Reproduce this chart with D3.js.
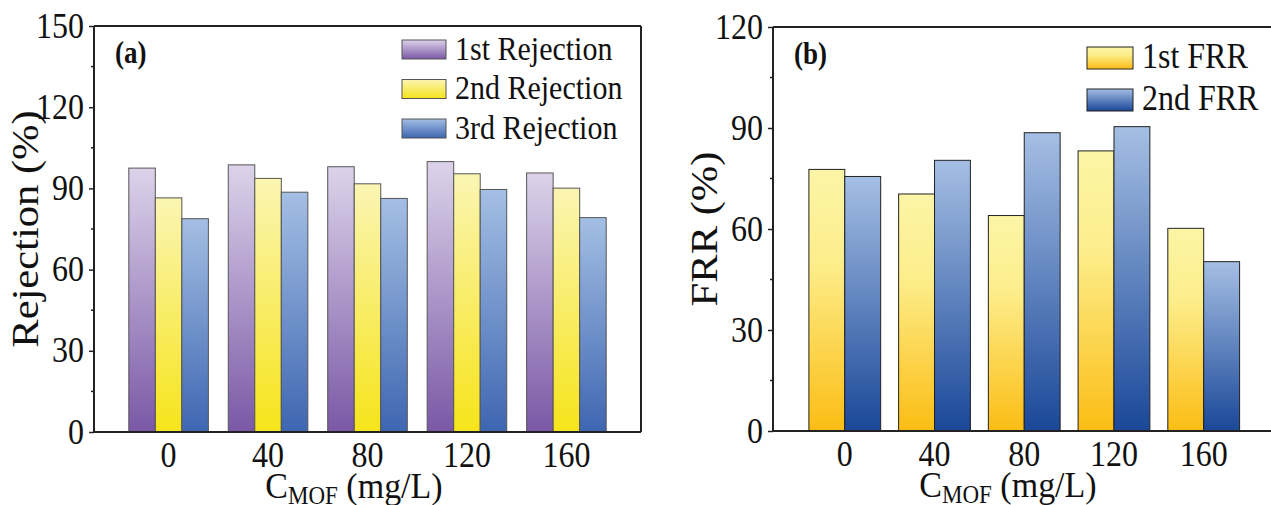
<!DOCTYPE html>
<html>
<head>
<meta charset="utf-8">
<script src="https://cdn.jsdelivr.net/npm/d3@7"></script>
<style>
  body { margin: 0; background: #fff; }
  text { font-family: 'Liberation Serif', 'Times New Roman', serif; fill: #111; }
</style>
</head>
<body>
<div class="canvas"></div>
<script>
// data
const concentrations = [0, 40, 80, 120, 160]
const rejection1 = [97.5, 98.7, 98.0, 99.9, 95.7]
const rejection2 = [86.5, 93.7, 91.7, 95.4, 90.1]
const rejection3 = [78.8, 88.6, 86.3, 89.6, 79.2]
const frr1 = [77.7, 70.4, 64.0, 83.2, 60.2]
const frr2 = [75.6, 80.4, 88.6, 90.4, 50.3]
const rejectionTicks = [0, 30, 60, 90, 120, 150]
const frrTicks = [0, 30, 60, 90, 120]

const dimensions = { width: 1271, height: 505 }
// the figure text is a little taller than wide
const stretch = 1.15

const svg = d3
  .select('.canvas')
  .append('svg')
  .attr('width', dimensions.width)
  .attr('height', dimensions.height)

const defs = svg.append('defs')

// vertical gradients, light on top
const makeGradient = (id, stops) => {
  const g = defs
    .append('linearGradient')
    .attr('id', id)
    .attr('x1', 0)
    .attr('y1', 0)
    .attr('x2', 0)
    .attr('y2', 1)
  stops.forEach(([o, c]) => g.append('stop').attr('offset', o).attr('stop-color', c))
}
makeGradient('purple', [[0, '#dcd3ea'], [1, '#7a58a6']])
makeGradient('yellowA', [[0, '#fbf5b3'], [1, '#f6e41a']])
makeGradient('blueA', [[0, '#a4bfe4'], [1, '#3e66b1']])
makeGradient('yellowB', [[0, '#fcf5a6'], [0.35, '#fdee8c'], [1, '#fbbd14']])
makeGradient('blueB', [[0, '#a5bfe4'], [1, '#1a4798']])

// text placed at x,y and stretched vertically
const addText = (parent, x, y, size, str, anchor = 'start', weight = 'normal') =>
  parent
    .append('text')
    .attr('transform', `translate(${x},${y}) scale(1,${stretch})`)
    .attr('text-anchor', anchor)
    .style('font-size', size)
    .style('font-weight', weight)
    .text(str)

const drawPanel = (opts) => {
  const { left, right, top, bottom, yMax, yTicks, xDomain, series, fills, strokes, names, label, yTitle, xTitleX, legend, boxRight } = opts

  const x = d3.scaleLinear().domain(xDomain).range([left, right])
  const y = d3.scaleLinear().domain([0, yMax]).range([bottom, top])

  const groupWidth = 32
  const barWidth = groupWidth / series.length

  // bars
  series.forEach((values, i) => {
    svg
      .append('g')
      .selectAll('rect')
      .data(values)
      .enter()
      .append('rect')
      .attr('x', (d, j) => x(concentrations[j] - groupWidth / 2 + i * barWidth))
      .attr('width', x(barWidth) - x(0))
      .attr('y', (d) => y(d))
      .attr('height', (d) => y(0) - y(d))
      .attr('fill', `url(#${fills[i]})`)
      .attr('stroke', strokes)
      .attr('stroke-width', 1)
  })

  // y axis with major and minor ticks
  const yAxis = d3.axisLeft(y).tickValues(yTicks).tickSize(5).tickPadding(5)
  const yAxisGroup = svg.append('g').attr('transform', `translate(${left},0)`).call(yAxis)
  yAxisGroup.select('.domain').remove()
  yAxisGroup.selectAll('line').attr('stroke', '#222').attr('stroke-width', 1.5)
  yAxisGroup
    .selectAll('text')
    .style('font-size', '32px')
    .style('font-family', 'Liberation Serif')
    .attr('fill', '#111')
    .attr('dy', '0.3em')
    .attr('transform', `scale(1,${stretch})`)

  const minor = d3.range(yTicks.length - 1).map((k) => (yTicks[k] + yTicks[k + 1]) / 2)
  svg
    .append('g')
    .selectAll('line')
    .data(minor)
    .enter()
    .append('line')
    .attr('x1', left - 3)
    .attr('x2', left)
    .attr('y1', (d) => y(d))
    .attr('y2', (d) => y(d))
    .attr('stroke', '#222')
    .attr('stroke-width', 1.5)

  // x tick labels
  const xLabels = svg.append('g')
  concentrations.forEach((c) => addText(xLabels, x(c), bottom + 35, '32px', c, 'middle'))

  // frame
  const frame = svg.append('g').attr('fill', 'none').attr('stroke', '#222').attr('stroke-width', 2)
  frame.append('line').attr('x1', left).attr('x2', left).attr('y1', top).attr('y2', bottom)
  frame.append('line').attr('x1', left).attr('x2', right).attr('y1', bottom).attr('y2', bottom)
  frame.append('line').attr('x1', left).attr('x2', right).attr('y1', top).attr('y2', top)
  if (boxRight) frame.append('line').attr('x1', right).attr('x2', right).attr('y1', top).attr('y2', bottom)

  // panel label
  addText(svg, left + 21, top + 37, '27px', label, 'start', 'bold')

  // y title
  svg
    .append('text')
    .attr('transform', `translate(${left - 56},${(top + bottom) / 2}) rotate(-90) scale(${stretch},1)`)
    .attr('text-anchor', 'middle')
    .style('font-size', '37px')
    .text(yTitle)

  // x title
  const xt = svg
    .append('text')
    .attr('transform', `translate(${xTitleX},${bottom + 66}) scale(1,1.08)`)
    .attr('text-anchor', 'middle')
    .style('font-size', '34px')
  xt.append('tspan').text('C')
  xt.append('tspan').attr('dy', 6).style('font-size', '23px').text('MOF')
  xt.append('tspan').attr('dy', -6).text(' (mg/L)')

  // legend
  const lg = svg.append('g').attr('transform', `translate(${legend.x},${legend.y})`)
  names.forEach((name, i) => {
    lg.append('rect')
      .attr('x', 0)
      .attr('y', i * legend.step)
      .attr('width', legend.w)
      .attr('height', legend.h)
      .attr('fill', `url(#${fills[i]})`)
      .attr('stroke', strokes)
      .attr('stroke-width', 1)
    addText(lg, legend.w + 9, i * legend.step + legend.h / 2 + 10, legend.font, name)
  })
}

drawPanel({
  left: 94,
  right: 641,
  top: 26,
  bottom: 432,
  yMax: 150,
  yTicks: rejectionTicks,
  xDomain: [-30, 190],
  series: [rejection1, rejection2, rejection3],
  fills: ['purple', 'yellowA', 'blueA'],
  strokes: '#555',
  names: ['1st Rejection', '2nd Rejection', '3rd Rejection'],
  label: '(a)',
  yTitle: 'Rejection (%)',
  xTitleX: 354,
  legend: { x: 402, y: 40, step: 39.5, w: 44, h: 19, font: '30px' },
  boxRight: true,
})

drawPanel({
  left: 773,
  right: 1271,
  top: 27,
  bottom: 431,
  yMax: 120,
  yTicks: frrTicks,
  xDomain: [-32, 190],
  series: [frr1, frr2],
  fills: ['yellowB', 'blueB'],
  strokes: '#222',
  names: ['1st FRR', '2nd FRR'],
  label: '(b)',
  yTitle: 'FRR (%)',
  xTitleX: 1008,
  legend: { x: 1087, y: 47, step: 42, w: 46, h: 22, font: '32px' },
  boxRight: false,
})
</script>
</body>
</html>
